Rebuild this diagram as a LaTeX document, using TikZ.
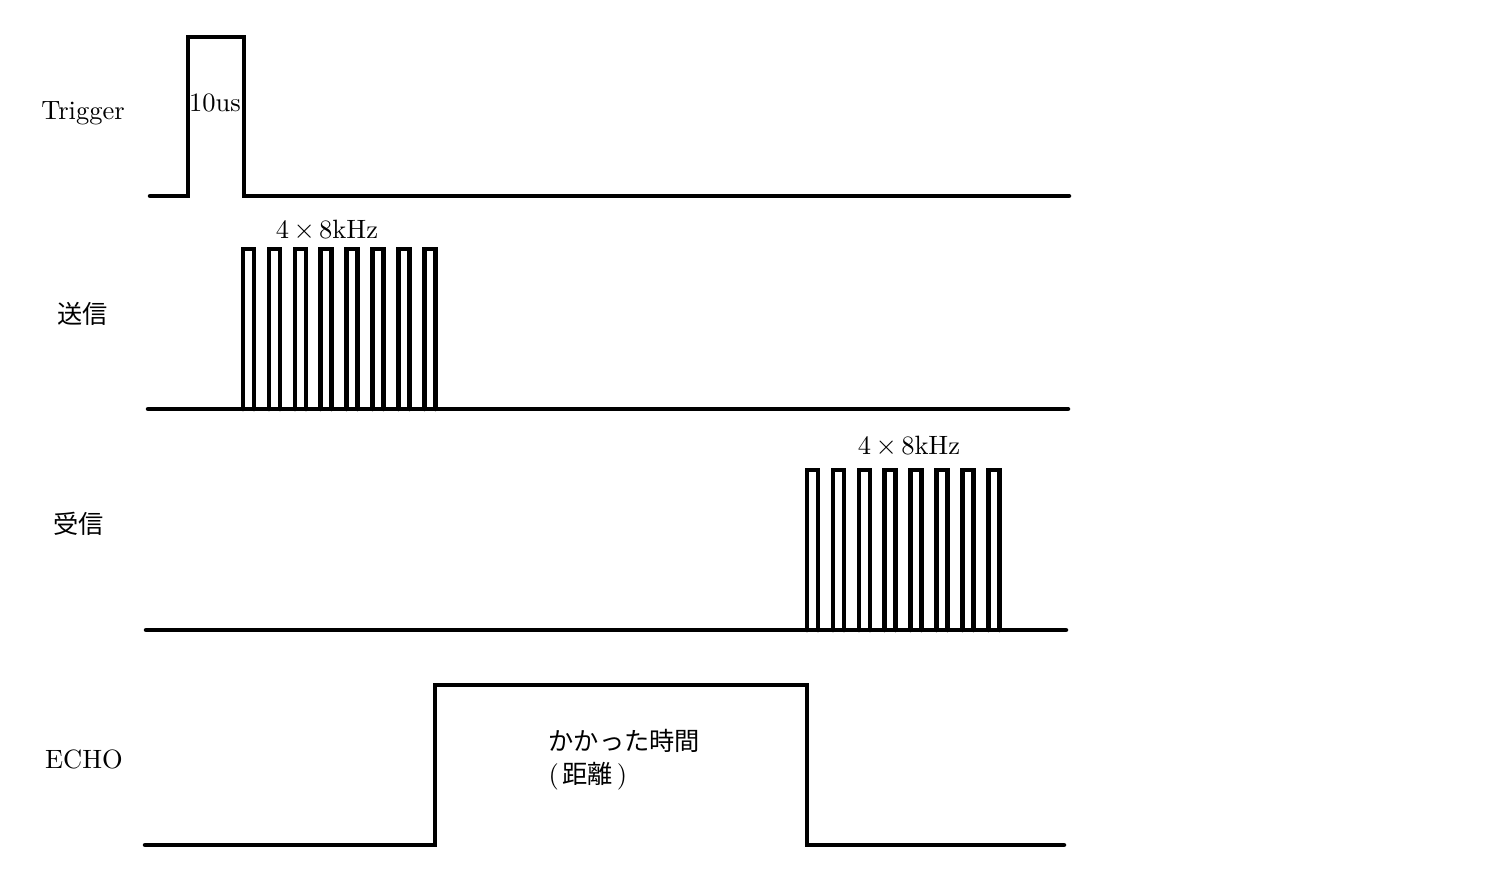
\documentclass[tikz,border=0pt]{standalone}
\usepackage{fontspec}
\newfontfamily\cjk{Noto Sans CJK JP}
\usetikzlibrary{positioning}

\begin{document}
\begin{tikzpicture}[x=0.4pt, y=-0.4pt,
        sig/.style={line width=1.8pt, line cap=round, line join=miter},
        lbl/.style={inner sep=0pt, font=\fontsize{10.6}{12}\selectfont},
        jlbl/.style={inner sep=0pt, font=\fontsize{10.1}{12}\selectfont\cjk}]
    \useasboundingbox (0,0) rectangle (1502,894);

    % signal names
    \node[lbl] (trig) at (83,113) {Trigger};
    \node[jlbl] (send) at (83,314) {送信};
    \node[jlbl] (recv) at (79,524) {受信};
    \node[lbl] (echo) at (84,759) {ECHO};

    % trigger
    \draw[sig] (150,196) -- (188,196) -- (188,37) -- (244,37) -- (244,196) -- (1069,196);
    \node[lbl] (tw) at (215,103) {10us};

    % burst sent
    \draw[sig] (148,409) -- (1068,409);
    \foreach \i in {0,...,7}
        \draw[sig] (243+\i*25.9,409) -- ++(0,-160) -- ++(11,0) -- ++(0,160);
    \node[lbl] (sf) at (327,230) {4\,$\times$\,8kHz};

    % burst received
    \draw[sig] (146,630) -- (1066,630);
    \foreach \i in {0,...,7}
        \draw[sig] (807+\i*25.9,630) -- ++(0,-160) -- ++(11,0) -- ++(0,160);
    \node[lbl] (rf) at (909,446) {4\,$\times$\,8kHz};

    % echo
    \draw[sig] (145,845) -- (435,845) -- (435,685) -- (807,685) -- (807,845) -- (1064,845);
    \node[jlbl, anchor=west] (time) at (548,741) {かかった時間};
    \node[lbl, anchor=west] (dist) at (548,776) {(\kern1.5pt{\cjk\fontsize{10.1}{12}\selectfont 距離}\kern1.5pt)};
\end{tikzpicture}
\end{document}
